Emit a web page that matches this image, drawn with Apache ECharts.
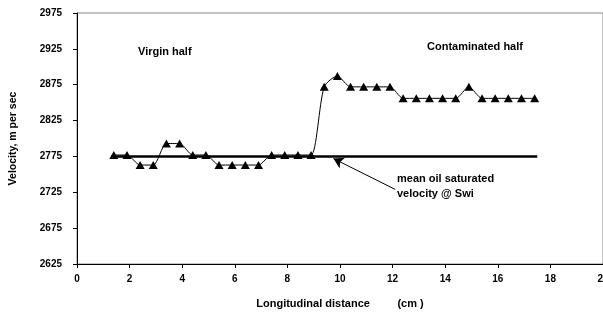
<!DOCTYPE html>
<html>
<head>
<meta charset="utf-8">
<script src="https://cdn.jsdelivr.net/npm/echarts@6/dist/echarts.min.js"></script>
<style>
    html, body { margin: 0; padding: 0; background: #fff; }
    #chart { width: 603px; height: 312px; }
</style>
</head>
<body>
<div id="chart"></div>
<script>
// 数据
var distance = [1.4, 1.9, 2.4, 2.9, 3.4, 3.9, 4.4, 4.9, 5.4, 5.9, 6.4, 6.9, 7.4, 7.9, 8.4, 8.9,
    9.4, 9.9, 10.4, 10.9, 11.4, 11.9, 12.4, 12.9, 13.4, 13.9, 14.4, 14.9, 15.4, 15.9, 16.4, 16.9, 17.4];
var velocity = [2777, 2777, 2763, 2763, 2793, 2793, 2777, 2777, 2763, 2763, 2763, 2763, 2777, 2777, 2777, 2777,
    2872, 2887, 2872, 2872, 2872, 2872, 2856, 2856, 2856, 2856, 2856, 2872, 2856, 2856, 2856, 2856, 2856];
var meanX = [1.3, 17.5];
var meanVelocity = 2775;
var arrowFrom = [12.1, 2729];
var arrowTo = [9.75, 2772];

(function () {
    var myChart = echarts.init(document.getElementById("chart"));
    var font = "Liberation Sans";

    var pts = distance.map(function (d, i) { return [d, velocity[i]]; });
    var meanLine = meanX.map(function (d) { return [d, meanVelocity]; });

    var option = {
        animation: false,
        grid: {
            left: 77,
            right: 0,
            top: 13,
            bottom: 48,
            outerBoundsMode: "none",
            containLabel: false,
            show: true,
            borderColor: "#888",
            borderWidth: 1
        },
        xAxis: {
            type: "value",
            min: 0,
            max: 20,
            interval: 2,
            name: "Longitudinal distance         (cm )",
            nameLocation: "middle",
            nameGap: 34,
            nameTextStyle: { fontFamily: font, fontWeight: "bold", fontSize: 11, color: "#000" },
            axisLine: { lineStyle: { color: "#000", width: 1 } },
            axisTick: { length: 4, lineStyle: { color: "#000" } },
            axisLabel: { fontFamily: font, fontWeight: "bold", fontSize: 10, color: "#000", margin: 10, hideOverlap: false },
            splitLine: { show: false }
        },
        yAxis: {
            type: "value",
            min: 2625,
            max: 2975,
            interval: 50,
            name: "Velocity, m per sec",
            nameLocation: "middle",
            nameGap: 58,
            nameTextStyle: { fontFamily: font, fontWeight: "bold", fontSize: 10.5, color: "#000" },
            axisLine: { show: true, lineStyle: { color: "#000", width: 1 } },
            axisTick: { show: true, length: 4, lineStyle: { color: "#000" } },
            axisLabel: {
                fontFamily: font, fontWeight: "bold", fontSize: 10, color: "#000", margin: 15,
                formatter: function (v) { return String(v); }
            },
            splitLine: { show: false }
        },
        series: [
            {
                name: "mean",
                type: "line",
                data: meanLine,
                symbol: "none",
                lineStyle: { color: "#000", width: 2.5 },
                z: 2
            },
            {
                name: "velocity",
                type: "line",
                data: pts,
                smooth: 0.25,
                symbol: "triangle",
                symbolSize: [9, 8],
                itemStyle: { color: "#000" },
                lineStyle: { color: "#000", width: 1 },
                z: 3
            },
            {
                // 注释箭头
                name: "arrow",
                type: "line",
                data: [],
                markLine: {
                    silent: true,
                    symbol: ["none", "arrow"],
                    symbolSize: [9, 10],
                    label: { show: false },
                    lineStyle: { color: "#000", width: 1, type: "solid" },
                    data: [[{ coord: arrowFrom }, { coord: arrowTo }]]
                }
            }
        ],
        graphic: [
            { type: "text", left: 138, top: 46, style: { text: "Virgin half", font: "bold 11px " + font, fill: "#000" } },
            { type: "text", left: 427, top: 41, style: { text: "Contaminated half", font: "bold 11px " + font, fill: "#000" } },
            { type: "text", left: 397, top: 171, style: { text: "mean oil saturated\nvelocity @ Swi", font: "bold 11px " + font, fill: "#000", lineHeight: 15 } }
        ]
    };

    myChart.setOption(option);
    window.addEventListener("resize", function () {
        myChart.resize();
    });
})();
</script>
</body>
</html>
